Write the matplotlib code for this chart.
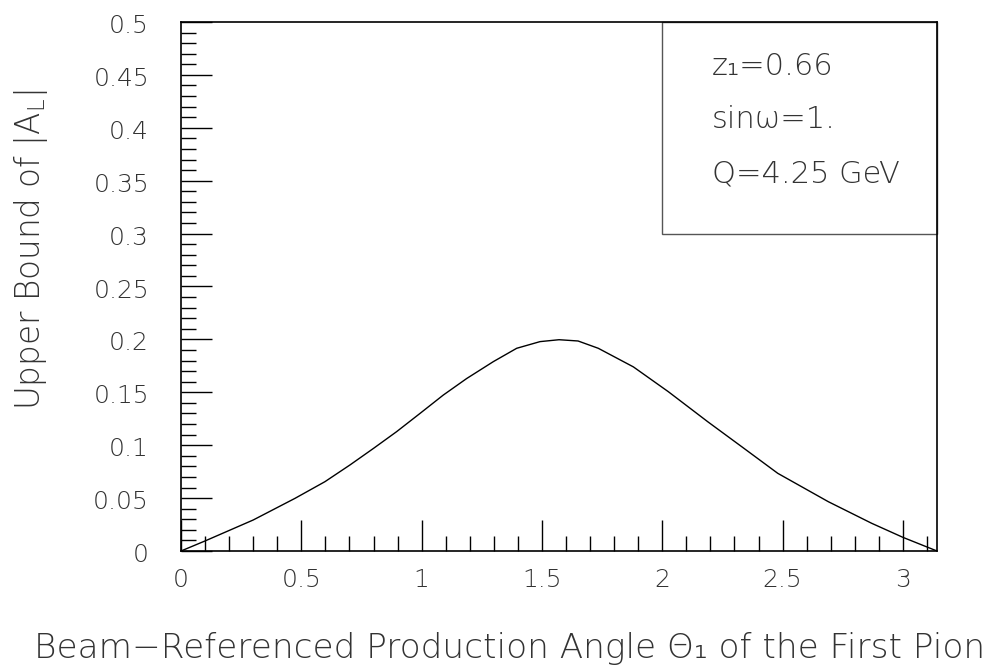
import numpy as np
import matplotlib
matplotlib.use('Agg')
from matplotlib import pyplot as plt
from matplotlib.patches import Rectangle
from matplotlib.ticker import MultipleLocator

# curve
theta = [0.0, 0.10, 0.30, 0.474, 0.598, 0.702, 0.80, 0.896, 0.993, 1.09, 1.187,
         1.298, 1.395, 1.492, 1.571, 1.65, 1.734, 1.88, 2.025, 2.19, 2.33, 2.48,
         2.69, 2.87, 3.0, 3.1416]
upper_al = [0.0, 0.0095, 0.0293, 0.0498, 0.0655, 0.0813, 0.097, 0.1128, 0.130,
            0.1474, 0.163, 0.179, 0.1916, 0.1979, 0.1997, 0.1985, 0.1916, 0.174,
            0.1506, 0.122, 0.0986, 0.0734, 0.0466, 0.0262, 0.0129, 0.0]

xticks = [0, 0.5, 1, 1.5, 2, 2.5, 3]
xtick_labels = ['0', '0.5', '1', '1.5', '2', '2.5', '3']
yticks = [0, 0.05, 0.1, 0.15, 0.2, 0.25, 0.3, 0.35, 0.4, 0.45, 0.5]
ytick_labels = ['0', '0.05', '0.1', '0.15', '0.2', '0.25', '0.3', '0.35', '0.4', '0.45', '0.5']

box_lines = ['z\u2081=0.66', 'sin\u03c9=1.', 'Q=4.25 GeV']

txt = '#333333'
fw = 200  # thin DejaVu
W, H = 987, 671
fig = plt.figure(figsize=(W / 100, H / 100), dpi=100)
ax = fig.add_axes([181 / W, 1 - 551 / H, (937 - 181) / W, (551 - 22) / H])

ax.plot(theta, upper_al, color='black', lw=1.0)
ax.set_xlim(0, np.pi)
ax.set_ylim(0, 0.5)

# info box in the upper right corner
ax.add_patch(Rectangle((2.0, 0.3), np.pi - 2.0, 0.2, fill=False,
                       edgecolor='#555555', lw=1.0, clip_on=False))
for s, yb in zip(box_lines, [75, 128, 183]):
    fig.text(712 / W, 1 - yb / H, s, ha='left', va='baseline',
             fontsize=22, color=txt, fontweight=fw)

ax.xaxis.set_major_locator(MultipleLocator(0.5))
ax.xaxis.set_minor_locator(MultipleLocator(0.1))
ax.yaxis.set_major_locator(MultipleLocator(0.05))
ax.yaxis.set_minor_locator(MultipleLocator(0.01))
ax.tick_params(which='both', direction='in', top=False, right=False,
               color='black', width=1.0)
ax.tick_params(which='major', length=22)
ax.tick_params(which='minor', length=11)
ax.set_xticklabels([])
ax.set_yticklabels([])

for v, lab in zip(xticks, xtick_labels):
    ax.text(v, -0.034, lab, ha='center', va='baseline', fontsize=18,
            color=txt, fontweight=fw)
for v, lab in zip(yticks, ytick_labels):
    ax.text(-0.133, v - 0.0104, lab, ha='right', va='baseline', fontsize=18,
            color=txt, fontweight=fw)

for s in ax.spines.values():
    s.set_linewidth(1.2)
    s.set_color('black')

fig.text(31 / W, 1 - 90 / H, 'Upper Bound of |A$_\\mathregular{L}$|', rotation=90,
         ha='center', va='top', fontsize=23.5, color=txt, fontweight=fw)
fig.text(985 / W, 1 - 658 / H,
         'Beam\u2212Referenced Production Angle \u0398\u2081 of the First Pion',
         ha='right', va='baseline', fontsize=24.7, color=txt, fontweight=fw)

fig.savefig('out.png', dpi=100)
